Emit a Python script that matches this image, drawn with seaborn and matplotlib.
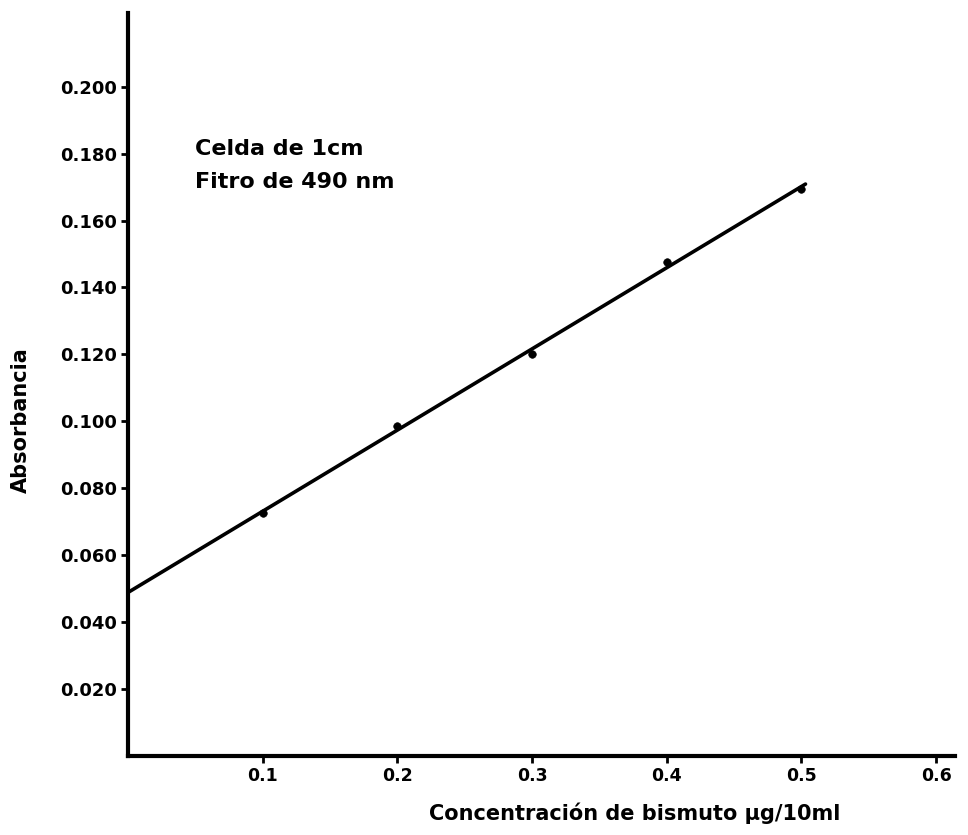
import numpy as np
import pandas as pd
import matplotlib
matplotlib.use("Agg")
import matplotlib.pyplot as plt
import seaborn as sns

# Data
concentration = [0.1, 0.2, 0.3, 0.4, 0.5]
absorbance = [0.0727, 0.0985, 0.120, 0.1475, 0.1695]
fit_range = [0.0, 0.503]
x_ticks = [0.1, 0.2, 0.3, 0.4, 0.5, 0.6]
y_ticks = [0.020, 0.040, 0.060, 0.080, 0.100, 0.120, 0.140, 0.160, 0.180, 0.200]

sns.set_theme(style="white")
plt.rcParams['font.family'] = ['DejaVu Sans']
plt.rcParams['font.weight'] = 'bold'

fig = plt.figure(figsize=(9.68, 8.35), dpi=100)
ax = fig.add_axes([128/968, (835-756)/835, (955-128)/968, (756-13)/835])

df = pd.DataFrame({"x": concentration, "y": absorbance})
slope, intercept = np.polyfit(concentration, absorbance, 1)
line_df = pd.DataFrame({"x": fit_range,
                        "y": [intercept + slope * v for v in fit_range]})

sns.lineplot(data=line_df, x="x", y="y", ax=ax, color="black", linewidth=2.6)
sns.scatterplot(data=df, x="x", y="y", ax=ax, color="black", s=30,
                edgecolor="black", zorder=5)

ax.set_xlim(0, 0.614)
ax.set_ylim(0, 0.222)
ax.set_xticks(x_ticks)
ax.set_xticklabels([f"{v:.1f}" for v in x_ticks], fontsize=12.5, fontweight='bold')
ax.set_yticks(y_ticks)
ax.set_yticklabels([f"{v:.3f}" for v in y_ticks], fontsize=13, fontweight='bold')

for side in ["top", "right"]:
    ax.spines[side].set_visible(False)
for side in ["left", "bottom"]:
    ax.spines[side].set_color("black")
    ax.spines[side].set_linewidth(3)

ax.tick_params(axis="both", direction="out", length=5, width=2, color="black",
               left=True, bottom=True, pad=3, labelcolor="black")

ax.set_xlabel("Concentración de bismuto µg/10ml", fontsize=15, fontweight='bold',
              color="black")
ax.xaxis.set_label_coords(0.613, -0.062)
ax.set_ylabel("Absorbancia", fontsize=15, fontweight='bold', color="black")
ax.yaxis.set_label_coords(-0.118, 0.452)

ax.text(195/968, (835-155)/835, "Celda de 1cm", transform=fig.transFigure,
        fontsize=16, fontweight='bold', color="black", va="baseline")
ax.text(195/968, (835-188)/835, "Fitro de 490 nm", transform=fig.transFigure,
        fontsize=16, fontweight='bold', color="black", va="baseline")

ax.grid(False)
fig.savefig("out.png", dpi=100, facecolor="white")
